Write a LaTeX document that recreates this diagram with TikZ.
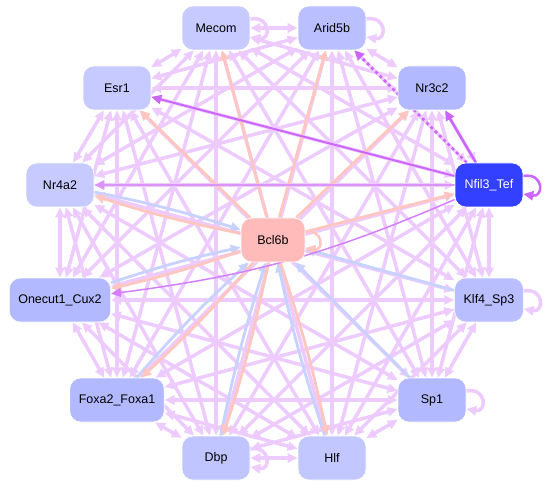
\documentclass[tikz,border=0pt]{standalone}
\usepackage{fontspec}
\setmainfont{Liberation Sans}
\usetikzlibrary{arrows.meta,backgrounds}
\definecolor{genec}{HTML}{C6CAFF}
\definecolor{gened}{HTML}{B2B9FF}
\definecolor{hubc}{HTML}{3340FF}
\definecolor{bclc}{HTML}{FFBABA}
\definecolor{linkc}{HTML}{EDCBFF}
\definecolor{darkc}{HTML}{CC66FF}
\definecolor{outc}{HTML}{FFC6C0}
\definecolor{inc}{HTML}{C8D2FF}
\tikzset{
  gene/.style={draw=white,line width=0.6pt,rounded corners=11pt,fill=genec,
    minimum width=68pt,minimum height=44pt,inner xsep=9pt,
    font=\fontsize{12.5}{14}\selectfont},
  link/.style={linkc,line width=3.5pt,{Triangle[length=10pt,width=9pt]}-{Triangle[length=10pt,width=9pt]}},
  selflink/.style={linkc,line width=3.5pt,-{Triangle[length=10pt,width=9pt]}},
  outlink/.style={outc,line width=2.8pt,-{Triangle[length=10pt,width=9pt]}},
  inlink/.style={inc,line width=2.8pt,-{Triangle[length=10pt,width=9pt]}},
  darklink/.style={darkc,line width=2.5pt,-{Triangle[length=10pt,width=9pt]}}
}
\begin{document}
\begin{tikzpicture}[x=1pt,y=-1pt]
  \useasboundingbox (0,0) rectangle (557,489);
  % ring of target genes
  \node[gene] (mecom) at (216,28) {Mecom};
  \node[gene,fill=gened!60!genec] (arid5b) at (332,28) {Arid5b};
  \node[gene] (esr1) at (117,88) {Esr1};
  \node[gene,fill=gened] (nr3c2) at (432,88) {Nr3c2};
  \node[gene] (nr4a2) at (60,185) {Nr4a2};
  \node[gene,fill=hubc,text=white] (nfil3) at (489,185) {Nfil3\_Tef};
  \node[gene,fill=gened] (onecut1) at (60,300) {Onecut1\_Cux2};
  \node[gene,fill=gened!70!genec] (klf4) at (489,300) {Klf4\_Sp3};
  \node[gene,fill=gened] (foxa2) at (117,400) {Foxa2\_Foxa1};
  \node[gene,fill=gened] (sp1) at (432,400) {Sp1};
  \node[gene,fill=gened!30!genec] (dbp) at (216,458) {Dbp};
  \node[gene,fill=gened!20!genec] (hlf) at (332,458) {Hlf};
  \node[gene,fill=bclc,minimum width=64pt] (bcl6b) at (273,240) {Bcl6b};
  \begin{pgfonlayer}{background}
  % all-pairs links
  \foreach \a [count=\i] in {mecom,arid5b,nr3c2,nfil3,klf4,sp1,hlf,dbp,foxa2,onecut1,nr4a2,esr1}{
    \foreach \b [count=\j] in {mecom,arid5b,nr3c2,nfil3,klf4,sp1,hlf,dbp,foxa2,onecut1,nr4a2,esr1}{
      \ifnum\j>\i
        \draw[link] (\a) -- (\b);
      \fi
    }
  }
  % self loops
  \draw[selflink] ([yshift=9pt]mecom.east) to[out=10,in=-10,looseness=3] ([yshift=-9pt]mecom.east);
  \draw[selflink] ([yshift=9pt]arid5b.east) to[out=10,in=-10,looseness=3] ([yshift=-9pt]arid5b.east);
  \draw[selflink] ([yshift=9pt]klf4.east) to[out=10,in=-10,looseness=3] ([yshift=-9pt]klf4.east);
  \draw[selflink] ([yshift=9pt]sp1.east) to[out=10,in=-10,looseness=3] ([yshift=-9pt]sp1.east);
  \draw[selflink] ([yshift=9pt]dbp.east) to[out=10,in=-10,looseness=3] ([yshift=-9pt]dbp.east);
  \draw[darklink] ([yshift=9pt]nfil3.east) to[out=10,in=-10,looseness=3] ([yshift=-9pt]nfil3.east);
  % Bcl6b out-going and in-coming
  \foreach \t in {esr1,mecom,arid5b,nr3c2,nfil3}
    \draw[outlink] (bcl6b) -- (\t);
  \foreach \t in {nr4a2,onecut1,foxa2,dbp,hlf}{
    \draw[inlink] (\t) to[bend left=3] (bcl6b);
    \draw[outlink] (bcl6b) to[bend left=3] (\t);
  }
  \foreach \s in {klf4,sp1}
    \draw[inlink] (\s) -- (bcl6b);
  \draw[outlink,line width=2.5pt] ([yshift=8pt]bcl6b.east) to[out=10,in=-10,looseness=3] ([yshift=-8pt]bcl6b.east);
  % Nfil3_Tef regulators
  \draw[darklink,line width=2pt] (nfil3) -- (esr1);
  \draw[darklink,dashed] (nfil3) -- (arid5b);
  \draw[darklink] (nfil3) -- (nr3c2);
  \draw[darklink,darkc!55!linkc,line width=1.5pt] (nfil3) -- (nr4a2);
  \draw[darklink,darkc!75!linkc,line width=1.5pt] (nfil3) to[bend left=8] (onecut1);
  \end{pgfonlayer}
\end{tikzpicture}
\end{document}
